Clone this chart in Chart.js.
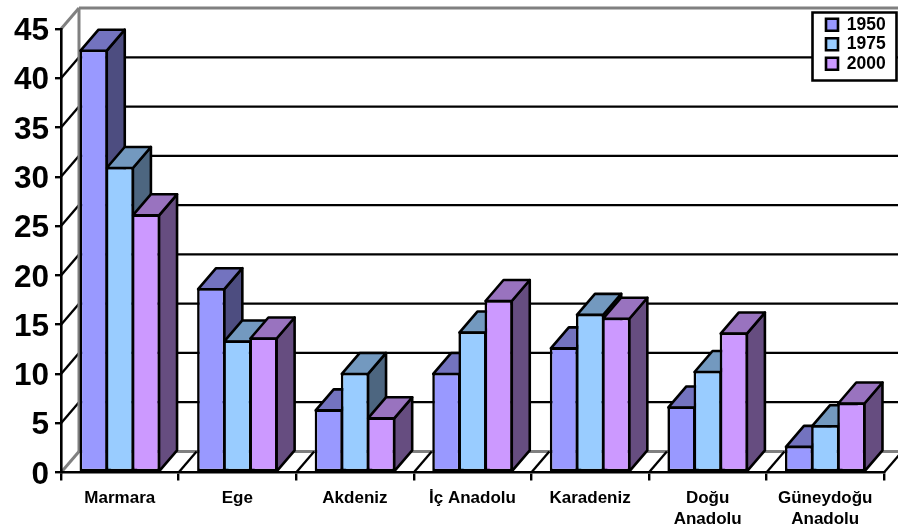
<!DOCTYPE html>
<html>
<head>
<meta charset="utf-8">
<style>html,body{margin:0;padding:0;background:#fff}canvas{display:block}</style>
<script src="https://cdn.jsdelivr.net/npm/chart.js@4/dist/chart.umd.min.js"></script>
</head>
<body>
<canvas id="c" width="898" height="529"></canvas>
<script>
const categories = ["Marmara","Ege","Akdeniz","İç Anadolu","Karadeniz",["Doğu","Anadolu"],["Güneydoğu","Anadolu"]];
const series1950 = [42.9,18.7,6.4,10.1,12.7,6.7,2.7];
const series1975 = [31,13.4,10.1,14.3,16.1,10.3,4.8];
const series2000 = [26.2,13.7,5.6,17.5,15.7,14.2,7.1];
const seriesNames = ["1950","1975","2000"];
const yMin = 0, yMax = 45, yStep = 5;

const FONT = "'Liberation Sans', Arial, sans-serif";
const DEPTH_X = 18, DEPTH_Y = 21, INK = "#000", WALL = "#808080", LINE = 2.6;
const colors = [[153,153,255],[153,204,255],[204,153,255]];
const rgb = (c, f) => `rgb(${Math.round(c[0]*f)},${Math.round(c[1]*f)},${Math.round(c[2]*f)})`;

function seg(ctx, x1, y1, x2, y2, color, w) {
  ctx.strokeStyle = color; ctx.lineWidth = w;
  ctx.beginPath(); ctx.moveTo(x1, y1); ctx.lineTo(x2, y2); ctx.stroke();
}
function poly(ctx, pts, fill) {
  ctx.fillStyle = fill; ctx.strokeStyle = INK; ctx.lineWidth = LINE; ctx.lineJoin = "round";
  ctx.beginPath();
  pts.forEach((p, i) => i ? ctx.lineTo(p[0], p[1]) : ctx.moveTo(p[0], p[1]));
  ctx.closePath(); ctx.fill(); ctx.stroke();
}

const threeD = {
  id: "threeD",
  beforeLayout(chart) {
    const l = chart.legend;
    if (l && !l._patched) {
      const fit = l.fit;
      l.fit = function () { fit.call(this); this.width = 0; };
      l._patched = true;
    }
  },
  afterLayout(chart) {
    const l = chart.legend;
    l.left = 824; l.right = 897; l.top = 14; l.bottom = 81;
    const y = chart.scales.y, get = y.getLabelItems;
    y.getLabelItems = function (a) {
      const fresh = !this._labelItems;
      const items = get.call(this, a);
      if (fresh) items.forEach(it => { it.options.translation[1] += 2.5; });
      return items;
    };
  },
  beforeDraw(chart) {
    const { ctx, chartArea: a, scales: { x, y } } = chart;
    const W = chart.width;
    ctx.save();
    y.ticks.forEach(t => {
      const py = y.getPixelForValue(t.value);
      const edge = t.value === yMin || t.value === yMax;
      const col = edge ? WALL : INK, w = edge ? 3 : 2.3;
      seg(ctx, a.left, py, a.left + DEPTH_X, py - DEPTH_Y, col, w);
      seg(ctx, a.left + DEPTH_X, py - DEPTH_Y, W, py - DEPTH_Y, col, w);
    });
    seg(ctx, a.left + DEPTH_X, y.getPixelForValue(yMax) - DEPTH_Y, a.left + DEPTH_X, y.getPixelForValue(yMin) - DEPTH_Y, WALL, 3);
    categories.forEach((c, i) => {
      const px = x.getPixelForValue(i) + (x.getPixelForValue(1) - x.getPixelForValue(0)) / 2;
      seg(ctx, px, a.bottom, px + DEPTH_X, a.bottom - DEPTH_Y, INK, 2.3);
    });
    ctx.fillStyle = "#fff"; ctx.strokeStyle = INK; ctx.lineWidth = 2.6;
    ctx.beginPath(); ctx.rect(812.5, 12.5, 84, 68); ctx.fill(); ctx.stroke();
    ctx.restore();
  },
  beforeDatasetsDraw(chart) {
    const { ctx } = chart;
    ctx.save();
    categories.forEach((c, i) => {
      chart.data.datasets.forEach((ds, d) => {
        const el = chart.getDatasetMeta(d).data[i];
        const l = el.x - el.width / 2 + 1, r = el.x + el.width / 2 - 1, t = el.y + 1, b = el.base;
        poly(ctx, [[r, t], [r + DEPTH_X, t - DEPTH_Y], [r + DEPTH_X, b - DEPTH_Y], [r, b]], rgb(colors[d], 0.5));
        poly(ctx, [[l, t], [l + DEPTH_X, t - DEPTH_Y], [r + DEPTH_X, t - DEPTH_Y], [r, t]], rgb(colors[d], 0.75));
      });
    });
    ctx.restore();
  }
};

const allSeries = [series1950, series1975, series2000];
new Chart(document.getElementById("c"), {
  type: "bar",
  data: {
    labels: categories,
    datasets: allSeries.map((s, i) => ({
      label: seriesNames[i],
      data: s,
      backgroundColor: rgb(colors[i], 1),
      borderColor: INK,
      borderWidth: LINE,
      borderSkipped: false
    }))
  },
  options: {
    responsive: false,
    animation: false,
    layout: { padding: { left: 0, right: 14, top: 29, bottom: 0 } },
    datasets: { bar: { categoryPercentage: 0.667, barPercentage: 1.08 } },
    plugins: {
      tooltip: { enabled: false },
      legend: {
        display: true,
        position: "right",
        align: "start",
        labels: {
          boxWidth: 12, boxHeight: 12, padding: 2, color: INK,
          font: { family: FONT, weight: "bold", size: 17.5, lineHeight: 0.97 }
        }
      }
    },
    scales: {
      x: {
        afterFit(s) { s.height = 56.5; },
        border: { color: INK, width: 2.6 },
        grid: { drawOnChartArea: false, drawTicks: true, tickLength: 8, color: INK, lineWidth: 2.4 },
        ticks: {
          autoSkip: false, maxRotation: 0, minRotation: 0, padding: 7, color: INK,
          font: { family: FONT, weight: "bold", size: 17, lineHeight: 1.25 }
        }
      },
      y: {
        min: yMin, max: yMax,
        afterFit(s) { s.width = 61; },
        border: { color: INK, width: 2.6 },
        grid: { drawOnChartArea: false, drawTicks: true, tickLength: 6, color: INK, lineWidth: 2.4 },
        ticks: {
          stepSize: yStep, padding: 6, color: INK,
          font: { family: FONT, weight: "bold", size: 31.5 }
        }
      }
    }
  },
  plugins: [threeD]
});
</script>
</body>
</html>
